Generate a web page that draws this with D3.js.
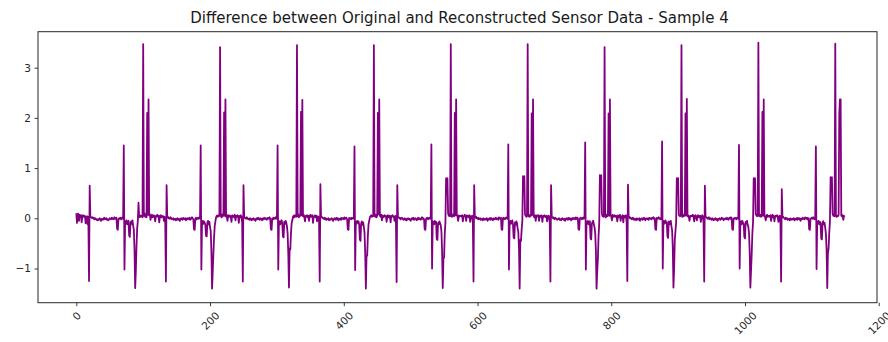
<!DOCTYPE html>
<html>
<head>
<meta charset="utf-8">
<script src="https://cdn.jsdelivr.net/npm/d3@7"></script>
<style>
  html, body { margin: 0; padding: 0; background: #fff; }
  svg { display: block; font-family: "DejaVu Sans", sans-serif; }
</style>
</head>
<body>
<svg id="chart" width="888" height="342"></svg>
<script>
// Difference (original − reconstructed) per sample, one array per gait cycle of 115 samples.
const seg0 = [.10,-.09,.08,.09,-.05,.07,.04,.06,-.08,.05, .06,.03,.05,.04,-.10,.02,.04,-.12,.03,
  -1.25,.65,
  .03,.02,.01,.02,0,.01,-.02,0,-.01,-.03, -.02,-.04,-.02,-.03,0,-.02,-.05,-.01,-.02,-.03,
  0,.01,-.02,-.01,0,-.03,-.02,-.04,-.02,0, -.01,-.02,.01,0,-.02,-.01,.02,-.01,0,.01,
  -.21,-.23, -.02,0,-.01,.01,-.02,0,.02,-.01,
  1.45,-1.02,
  -.06,-.10,-.04,-.12,-.07,-.05,-.34,-.37,-.09,-.06,-.11,-.04,-.15,-.22,
  -.62,-1.39,-1.07,-.55,-.20,
  -.05,.31,.02,.06,.03,.05,.04,.02,
  3.47,
  .05,.10,.03,.06,.02,2.10,.07,2.37,.06,.08,-.03,.05,.07,.02];
const seg1 = [.04,.06,.03,-.06,.05,.04,.07,.03,.05,-.08, .04,.06,.02,.05,.03,.04,-.05,.03,-.10,
  -1.26,.66,
  .02,.03,0,.01,-.01,.02,0,-.02,-.01,0, -.03,-.02,-.01,-.04,-.02,0,-.03,-.01,-.02,-.05,
  -.01,0,-.02,-.03,.01,-.01,-.02,0,-.04,-.01, 0,-.02,-.01,.01,-.03,0,-.01,.02,0,-.02,
  -.22,-.23, -.01,.01,-.02,0,.01,-.01,.02,0,
  1.45,-1.02,
  -.08,-.05,-.11,-.06,-.09,-.13,-.35,-.36,-.08,-.05,-.12,-.07,-.18,-.25,
  -.65,-1.40,-1.07,-.70,-.38,
  -.15,-.06,.02,.05,.03,.06,.04,.05,
  3.41,
  .06,.02,.08,.04,.07,2.11,.05,2.37,.03,.07,-.05,.04,.06,.03];
const seg2 = [.05,.03,-.07,.06,.04,.05,.02,.07,-.04,.05, .03,.06,.04,-.09,.05,.02,.06,.03,-.08,
  -1.26,.66,
  .03,.01,0,-.01,.02,0,-.02,-.01,-.03,0, -.02,-.04,-.01,-.02,0,-.03,-.02,-.05,-.01,0,
  -.02,.01,-.01,-.03,0,-.02,-.01,-.04,0,-.02, .01,-.01,0,-.02,-.03,.01,0,-.01,.02,-.01,
  -.22,-.23, 0,-.02,.01,-.01,0,.02,-.01,.01,
  1.45,-1.02,
  -.05,-.09,-.12,-.06,-.04,-.10,-.36,-.38,-.07,-.11,-.05,-.09,-.16,-.30,
  -.70,-1.38,-.60,-.62,-.30,
  -.10,-.04,.03,.05,.02,.06,.04,.03,
  3.45,
  .04,.08,.02,.06,.05,2.12,.06,2.36,.04,.07,.02,-.06,.05,.04];
const seg3 = [.06,.02,.05,-.05,.04,.07,.03,.05,.06,-.09, .04,.03,.06,.02,.05,-.06,.04,.03,-.07,
  -1.26,.68,
  .02,.03,.01,0,-.01,.01,-.02,0,-.03,-.01, -.02,0,-.04,-.02,-.03,-.01,0,-.02,-.05,-.02,
  0,-.01,-.03,.01,-.02,0,-.04,-.01,-.02,0, -.03,.01,-.01,0,-.02,.02,-.01,0,.01,-.02,
  -.22,-.23, .01,-.01,0,-.02,.01,0,-.01,.02,
  1.43,-1.03,
  -.07,-.11,-.05,-.09,-.06,-.12,-.42,-.45,-.10,-.06,-.13,-.08,-.17,-.28,
  -.68,-1.40,-.76,-.74,-.35,
  -.12,-.05,.02,.04,.06,.03,.05,.04,
  3.45,
  .05,.03,.07,.02,.06,2.10,.08,2.37,.05,.03,.07,-.04,.06,.02];
const seg4 = [.03,.06,.04,.05,-.07,.03,.06,.02,.05,.04, -.08,.05,.03,.06,.04,.02,-.05,.05,-.09,
  -1.27,.66,
  .03,.02,0,.01,-.02,0,.01,-.01,-.03,-.02, 0,-.03,-.01,-.04,-.02,0,-.02,-.01,-.03,-.05,
  -.01,0,-.02,.01,-.03,-.01,0,-.02,-.04,-.01, .01,-.02,0,-.01,-.03,0,.02,-.01,0,-.02,
  -.22,-.23, -.01,0,.01,-.02,0,.01,-.01,.02,
  1.47,-1.00,
  -.06,-.08,-.12,-.05,-.10,-.07,-.41,-.43,-.09,-.12,-.06,-.10,-.14,-.26,
  -.66,-1.39,-.80,-.78,-.30,
  -.08,.80,.78,.80,.10,.05,.06,.04,
  3.47,
  .06,.03,.05,.08,.04,2.10,.06,2.37,.07,.04,-.05,.06,.03,.05];
const seg5 = [.05,.04,.06,-.06,.03,.05,.07,.04,-.05,.06, .03,.05,.02,.06,-.07,.04,.03,.05,-.08,
  -1.26,.66,
  .02,.01,.03,0,-.01,.01,-.02,-.01,0,-.03, -.02,-.01,-.04,0,-.02,-.03,-.01,-.02,0,-.05,
  -.02,-.01,0,-.03,.01,-.02,-.01,-.04,0,-.02, -.01,.01,-.02,0,-.01,-.03,.02,0,-.01,.01,
  -.22,-.23, 0,.01,-.01,-.02,.01,0,.02,-.01,
  1.47,-1.02,
  -.09,-.05,-.11,-.07,-.04,-.12,-.38,-.40,-.08,-.13,-.06,-.09,-.20,-.27,
  -.60,-1.40,-.43,-.45,-.22,
  -.06,.84,.82,.84,.08,.05,.03,.06,
  3.47,
  .04,.07,.03,.06,.05,2.09,.07,2.37,.05,.02,.06,-.05,.04,.06];
const seg6 = [.04,.06,-.05,.05,.03,.06,.04,-.07,.05,.03, .06,.04,.02,.05,-.06,.03,.05,.04,-.09,
  -1.26,.66,
  .03,.01,.02,0,-.02,.01,0,-.01,-.03,-.02, -.01,0,-.03,-.02,-.04,-.01,0,-.02,-.03,-.01,
  -.05,-.02,0,-.01,-.03,.01,-.02,0,-.01,-.04, 0,-.02,.01,-.01,0,-.02,.02,-.01,.01,0,
  -.22,-.23, -.01,.01,0,-.02,.01,-.01,.02,0,
  1.51,-1.02,
  -.07,-.10,-.05,-.12,-.08,-.06,-.40,-.42,-.11,-.07,-.05,-.12,-.18,-.30,
  -.64,-1.40,-1.06,-.80,-.35,
  -.10,.86,.84,.86,.09,.04,.06,.03,
  3.41,
  .05,.02,.07,.04,.06,2.09,.05,2.37,.06,.04,-.04,.07,.03,.05];
const seg7 = [.06,.03,.05,.04,-.06,.06,.02,.05,.07,-.05, .04,.03,.06,-.08,.05,.04,.02,.06,-.07,
  -1.25,.67,
  .02,.03,0,.01,-.01,-.02,.01,0,-.03,-.01, -.02,-.04,0,-.01,-.03,-.02,0,-.05,-.02,-.01,
  0,-.03,-.01,.01,-.02,-.04,0,-.01,-.02,0, -.03,.01,0,-.01,-.02,.01,0,.02,-.01,0,
  -.22,-.23, .01,-.01,0,.02,-.01,0,-.02,.01,
  1.53,-1.00,
  -.05,-.11,-.07,-.04,-.10,-.08,-.36,-.39,-.06,-.12,-.09,-.05,-.16,-.24,
  -.58,-1.38,-1.00,-.43,-.25,
  -.08,.80,.76,.80,.07,.05,.04,.06,
  3.45,
  .03,.06,.04,.08,.05,2.09,.06,2.38,.04,.06,.03,-.05,.05,.04];
const seg8 = [.05,.04,.07,.03,-.06,.05,.06,.03,-.04,.05, .06,.02,.04,.05,-.07,.03,.06,.04,-.08,
  -1.26,.65,
  .03,.02,.01,-.01,0,.02,-.02,0,-.01,-.03, 0,-.02,-.04,-.01,-.02,0,-.03,-.01,-.05,-.02,
  -.01,0,-.03,-.02,.01,-.01,0,-.04,-.02,-.01, 0,-.02,.01,-.01,-.03,0,.01,-.01,.02,0,
  -.22,-.23, 0,-.01,.01,0,-.02,.01,0,-.01,
  1.46,-1.00,
  -.08,-.06,-.12,-.05,-.09,-.11,-.37,-.40,-.07,-.10,-.05,-.13,-.17,-.29,
  -.66,-1.38,-1.05,-.72,-.30,
  -.09,.80,.78,.80,.08,.06,.04,.05,
  3.50,
  .05,.04,.07,.03,.06,2.12,.05,2.37,.06,.03,-.04,.05,.07,.03];
const seg9 = [.04,.05,.03,.06,-.05,.04,.07,.02,.05,-.06, .03,.05,.04,.06,.02,-.07,.04,.05,-.08,
  -1.26,.58,
  .02,.03,.01,0,-.02,.01,-.01,0,-.03,-.02, -.01,-.04,0,-.02,-.03,-.01,-.02,0,-.04,-.01,
  -.02,0,-.03,.01,-.01,-.02,0,-.05,-.01,-.02, .01,-.01,0,-.02,.02,0,-.01,.01,-.02,0,
  -.22,-.23, -.01,0,.01,-.01,.02,0,-.02,.01,
  1.43,-1.01,
  -.06,-.09,-.05,-.12,-.07,-.10,-.40,-.42,-.08,-.06,-.12,-.09,-.19,-.31,
  -.62,-1.39,-.70,-.60,-.28,
  -.07,.82,.80,.82,.10,.05,.06,.04,
  3.48,
  .06,.03,.05,.04,.07,2.09,2.37,2.37,.05,.04,.06,-.03,.05,.03];

const diffValues = [].concat(seg0, seg1, seg2, seg3, seg4, seg5, seg6, seg7, seg8, seg9);

const xTicks = [0, 200, 400, 600, 800, 1000, 1200];
const yTicks = [-1, 0, 1, 2, 3];
const titleText = "Difference between Original and Reconstructed Sensor Data - Sample 4";

const svg = d3.select("#chart");
const plot = { left: 38, right: 877, top: 31.7, bottom: 302.7 };

const x = d3.scaleLinear().domain([-57.3, 1197.4]).range([plot.left, plot.right]);
const y = d3.scaleLinear().domain([-1.681, 3.717]).range([plot.bottom, plot.top]);

// series line, clipped to the plot frame
const clipId = "plot-clip";
svg.append("clipPath").attr("id", clipId)
  .append("rect")
  .attr("x", plot.left).attr("y", plot.top)
  .attr("width", plot.right - plot.left).attr("height", plot.bottom - plot.top);

const line = d3.line().x((d, i) => x(i)).y(d => y(d));
svg.append("path")
  .datum(diffValues)
  .attr("clip-path", `url(#${clipId})`)
  .attr("fill", "none")
  .attr("stroke", "#800080")
  .attr("stroke-width", 1.8)
  .attr("stroke-linejoin", "round")
  .attr("d", line);

// frame
svg.append("rect")
  .attr("x", plot.left).attr("y", plot.top)
  .attr("width", plot.right - plot.left).attr("height", plot.bottom - plot.top)
  .attr("fill", "none").attr("stroke", "#262626").attr("stroke-width", 1);

// axes
const tickFont = 10.5;
const yAxis = svg.append("g")
  .attr("transform", `translate(${plot.left},0)`)
  .call(d3.axisLeft(y).tickValues(yTicks).tickSize(3.5).tickPadding(3.5).tickFormat(d3.format("d")));
const xAxis = svg.append("g")
  .attr("transform", `translate(0,${plot.bottom})`)
  .call(d3.axisBottom(x).tickValues(xTicks).tickSize(3.5).tickPadding(3.5).tickFormat(d3.format("d")));

[yAxis, xAxis].forEach(g => {
  g.select(".domain").remove();
  g.selectAll(".tick line").attr("stroke", "#262626").attr("stroke-width", 0.9);
  g.selectAll(".tick text")
    .attr("fill", "#262626")
    .style("font-family", "'DejaVu Sans', sans-serif")
    .style("font-size", tickFont + "px");
});

// rotated x tick labels: bounding box centred under the tick, top edge fixed
const labelTop = 7.5;
xAxis.selectAll(".tick text").each(function () {
  const t = d3.select(this);
  const len = this.getComputedTextLength();
  const h = tickFont * 0.95;
  const half = (len + h) / (2 * Math.SQRT2);
  t.attr("y", null).attr("dy", "0.35em")
    .attr("text-anchor", "middle")
    .attr("transform", `translate(0,${labelTop + half}) rotate(-45)`);
});

// title
svg.append("text")
  .attr("x", (plot.left + plot.right) / 2 + 2)
  .attr("y", 23.3)
  .attr("text-anchor", "middle")
  .attr("fill", "#1a1a1a")
  .style("font-size", "15px")
  .text(titleText);
</script>
</body>
</html>
